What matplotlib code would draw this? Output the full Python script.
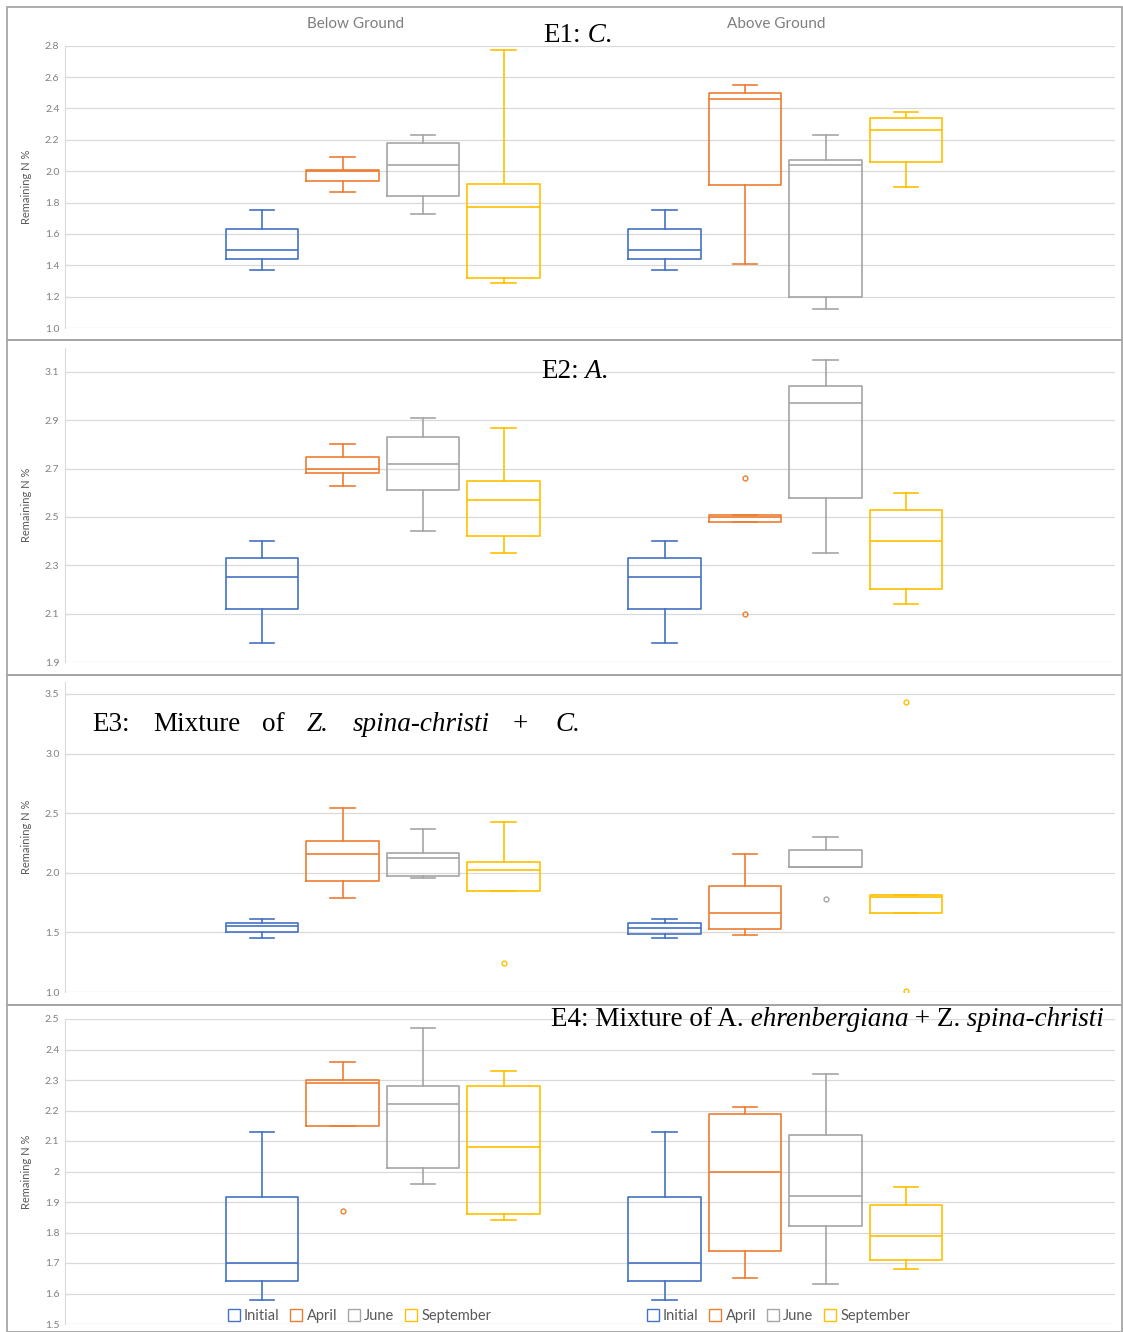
import matplotlib
matplotlib.use("Agg")
import matplotlib.pyplot as plt
from matplotlib.lines import Line2D
from matplotlib.patches import Rectangle

# ---- data (order: Below Initial, April, June, September, then Above the same) ----
SEASONS = ["Initial", "April", "June", "September"]
GROUPS = ["Below Ground", "Above Ground"]

E1_WHISLO = [1.37, 1.87, 1.73, 1.29, 1.37, 1.41, 1.12, 1.90]
E1_Q1 = [1.44, 1.94, 1.84, 1.32, 1.44, 1.91, 1.20, 2.06]
E1_MED = [1.50, 2.00, 2.04, 1.77, 1.50, 2.46, 2.04, 2.26]
E1_Q3 = [1.63, 2.01, 2.18, 1.92, 1.63, 2.50, 2.07, 2.34]
E1_WHISHI = [1.75, 2.09, 2.23, 2.77, 1.75, 2.55, 2.23, 2.38]
E1_FLIERS = [[], [], [], [], [], [], [], []]

E2_WHISLO = [1.98, 2.63, 2.44, 2.35, 1.98, 2.48, 2.35, 2.14]
E2_Q1 = [2.12, 2.68, 2.61, 2.42, 2.12, 2.48, 2.58, 2.20]
E2_MED = [2.25, 2.70, 2.72, 2.57, 2.25, 2.50, 2.97, 2.40]
E2_Q3 = [2.33, 2.75, 2.83, 2.65, 2.33, 2.51, 3.04, 2.53]
E2_WHISHI = [2.40, 2.80, 2.91, 2.87, 2.40, 2.51, 3.15, 2.60]
E2_FLIERS = [[], [], [], [], [], [2.66, 2.10], [], []]

E3_WHISLO = [1.45, 1.79, 1.96, 1.85, 1.45, 1.48, 2.05, 1.66]
E3_Q1 = [1.50, 1.93, 1.97, 1.85, 1.49, 1.53, 2.05, 1.66]
E3_MED = [1.55, 2.16, 2.12, 2.02, 1.54, 1.66, 2.05, 1.80]
E3_Q3 = [1.58, 2.27, 2.17, 2.09, 1.58, 1.89, 2.19, 1.81]
E3_WHISHI = [1.61, 2.54, 2.37, 2.43, 1.61, 2.16, 2.30, 1.81]
E3_FLIERS = [[], [], [], [1.24], [], [], [1.78], [3.43, 1.01]]

E4_WHISLO = [1.58, 2.15, 1.96, 1.84, 1.58, 1.65, 1.63, 1.68]
E4_Q1 = [1.64, 2.15, 2.01, 1.86, 1.64, 1.74, 1.82, 1.71]
E4_MED = [1.70, 2.29, 2.22, 2.08, 1.70, 2.00, 1.92, 1.79]
E4_Q3 = [1.915, 2.30, 2.28, 2.28, 1.915, 2.19, 2.12, 1.89]
E4_WHISHI = [2.13, 2.36, 2.47, 2.33, 2.13, 2.21, 2.32, 1.95]
E4_FLIERS = [[], [1.87], [], [], [], [], [], []]

E1_YTICKS = [1.0, 1.2, 1.4, 1.6, 1.8, 2.0, 2.2, 2.4, 2.6, 2.8]
E2_YTICKS = [1.9, 2.1, 2.3, 2.5, 2.7, 2.9, 3.1]
E3_YTICKS = [1.0, 1.5, 2.0, 2.5, 3.0, 3.5]
E4_YTICKS = [1.5, 1.6, 1.7, 1.8, 1.9, 2.0, 2.1, 2.2, 2.3, 2.4, 2.5]
E4_YTICKLABELS = ["1.5", "1.6", "1.7", "1.8", "1.9", "2", "2.1", "2.2", "2.3", "2.4", "2.5"]

# ---- styling / layout ----
COLORS = ["#4472C4", "#ED7D31", "#A5A5A5", "#FFC000"]
W, H = 1123, 1332
GROUP_GAP = 5.0
SANS = "Lato"
SERIF = "Liberation Serif"
TITLE_SIZE = 19.5

panels = [
    dict(stats=(E1_WHISLO, E1_Q1, E1_MED, E1_Q3, E1_WHISHI, E1_FLIERS),
         ylim=(1.0, 2.8), ticks=E1_YTICKS, labels=["%.1f" % t for t in E1_YTICKS],
         px=(45.7, 328), frame=(7, 340)),
    dict(stats=(E2_WHISLO, E2_Q1, E2_MED, E2_Q3, E2_WHISHI, E2_FLIERS),
         ylim=(1.9, 3.2), ticks=E2_YTICKS, labels=["%.1f" % t for t in E2_YTICKS],
         px=(347.8, 662), frame=(340, 675)),
    dict(stats=(E3_WHISLO, E3_Q1, E3_MED, E3_Q3, E3_WHISHI, E3_FLIERS),
         ylim=(1.0, 3.6), ticks=E3_YTICKS, labels=["%.1f" % t for t in E3_YTICKS],
         px=(682, 992), frame=(675, 1005)),
    dict(stats=(E4_WHISLO, E4_Q1, E4_MED, E4_Q3, E4_WHISHI, E4_FLIERS),
         ylim=(1.5, 2.5), ticks=E4_YTICKS, labels=E4_YTICKLABELS,
         px=(1019, 1324), frame=(1005, 1332)),
]

fig = plt.figure(figsize=(W / 100, H / 100), dpi=100)
fig.patch.set_facecolor("white")

x_left, x_right = 65, 1115
positions = [g * GROUP_GAP + s for g in range(2) for s in range(4)]

for p in panels:
    top, bottom = p["px"]
    ax = fig.add_axes([x_left / W, 1 - bottom / H, (x_right - x_left) / W, (bottom - top) / H])
    whislo, q1, med, q3, whishi, fliers = p["stats"]
    for i, pos in enumerate(positions):
        c = COLORS[i % 4]
        st = dict(whislo=whislo[i], q1=q1[i], med=med[i], q3=q3[i], whishi=whishi[i], fliers=fliers[i])
        lp = dict(color=c, linewidth=1.2)
        ax.bxp([st], positions=[pos], widths=0.9, capwidths=0.3, showfliers=True,
               boxprops=lp, whiskerprops=lp, capprops=lp, medianprops=lp,
               flierprops=dict(marker="o", markersize=3.5, markerfacecolor="none",
                               markeredgecolor=c, markeredgewidth=1.0, linestyle="none"),
               manage_ticks=False)
    ax.set_xlim((x_left - 262) / 80.5, (x_right - 262) / 80.5)
    ax.set_ylim(*p["ylim"])
    ax.set_yticks(p["ticks"])
    ax.set_yticklabels(p["labels"])
    ax.set_xticks([])
    ax.tick_params(axis="y", length=0, pad=4, labelsize=7.5, labelcolor="#808080")
    for lab in ax.get_yticklabels():
        lab.set_fontfamily(SANS)
    ax.yaxis.grid(True, color="#D9D9D9", linewidth=0.9)
    ax.set_axisbelow(True)
    for side in ("top", "right", "bottom"):
        ax.spines[side].set_visible(False)
    ax.spines["left"].set_color("#D9D9D9")
    ax.set_ylabel("Remaining N %", fontsize=8, color="#595959", family=SANS)
    ax.yaxis.set_label_coords(-0.031, 0.5)
    ax.patch.set_alpha(0)

# overlay in pixel coordinates for frames and titles
ov = fig.add_axes([0, 0, 1, 1])
ov.set_xlim(0, W)
ov.set_ylim(H, 0)
ov.axis("off")

for p in panels:
    t, b = p["frame"]
    ov.add_patch(Rectangle((7, t), W - 8, b - t, fill=False, edgecolor="#A6A6A6", linewidth=1.3))

ov.text(356, 24, GROUPS[0], ha="center", va="center", fontsize=11, color="#7F7F7F", family=SANS)
ov.text(776, 24, GROUPS[1], ha="center", va="center", fontsize=11, color="#7F7F7F", family=SANS)


def rich_title(x, base, pieces):
    prev = None
    for s, italic in pieces:
        kw = dict(fontsize=TITLE_SIZE, family=SERIF, style="italic" if italic else "normal",
                  ha="left", va="baseline", color="black")
        if prev is None:
            prev = ov.text(x, base, s, **kw)
        else:
            prev = ov.annotate(s, xy=(1, base), xycoords=(prev, "data"), **kw)


rich_title(543, 42, [("E1:", False), (" C.", True)])
rich_title(541, 378, [("E2:", False), (" A.", True)])
rich_title(551, 1026, [("E4: Mixture of A.", False), (" ehrenbergiana", True),
                       (" + Z.", False), (" spina-christi", True)])

# E3 line is justified in the source, words spread out
e3_words = [("E3:", False, 92), ("Mixture", False, 153), ("of", False, 262), ("Z.", True, 307),
            ("spina-christi", True, 353), ("+", False, 513), ("C.", True, 555)]
for word, italic, x in e3_words:
    ov.text(x, 731, word, fontsize=TITLE_SIZE, family=SERIF, style="italic" if italic else "normal",
            ha="left", va="baseline", color="black")

# legends, one per chart half
handles = [Line2D([], [], marker="s", linestyle="none", markersize=8.5, markerfacecolor="none",
                  markeredgecolor=c, markeredgewidth=1.0) for c in COLORS]
for cx in (360, 779):
    fig.legend(handles, SEASONS, loc="center", bbox_to_anchor=(cx / W, 1 - 1316 / H), ncol=4,
               frameon=False, handlelength=0.7, handletextpad=0.35,
               columnspacing=0.8, labelcolor="#595959", prop=dict(family=SANS, size=10.5))

fig.savefig("out.png", dpi=100)
